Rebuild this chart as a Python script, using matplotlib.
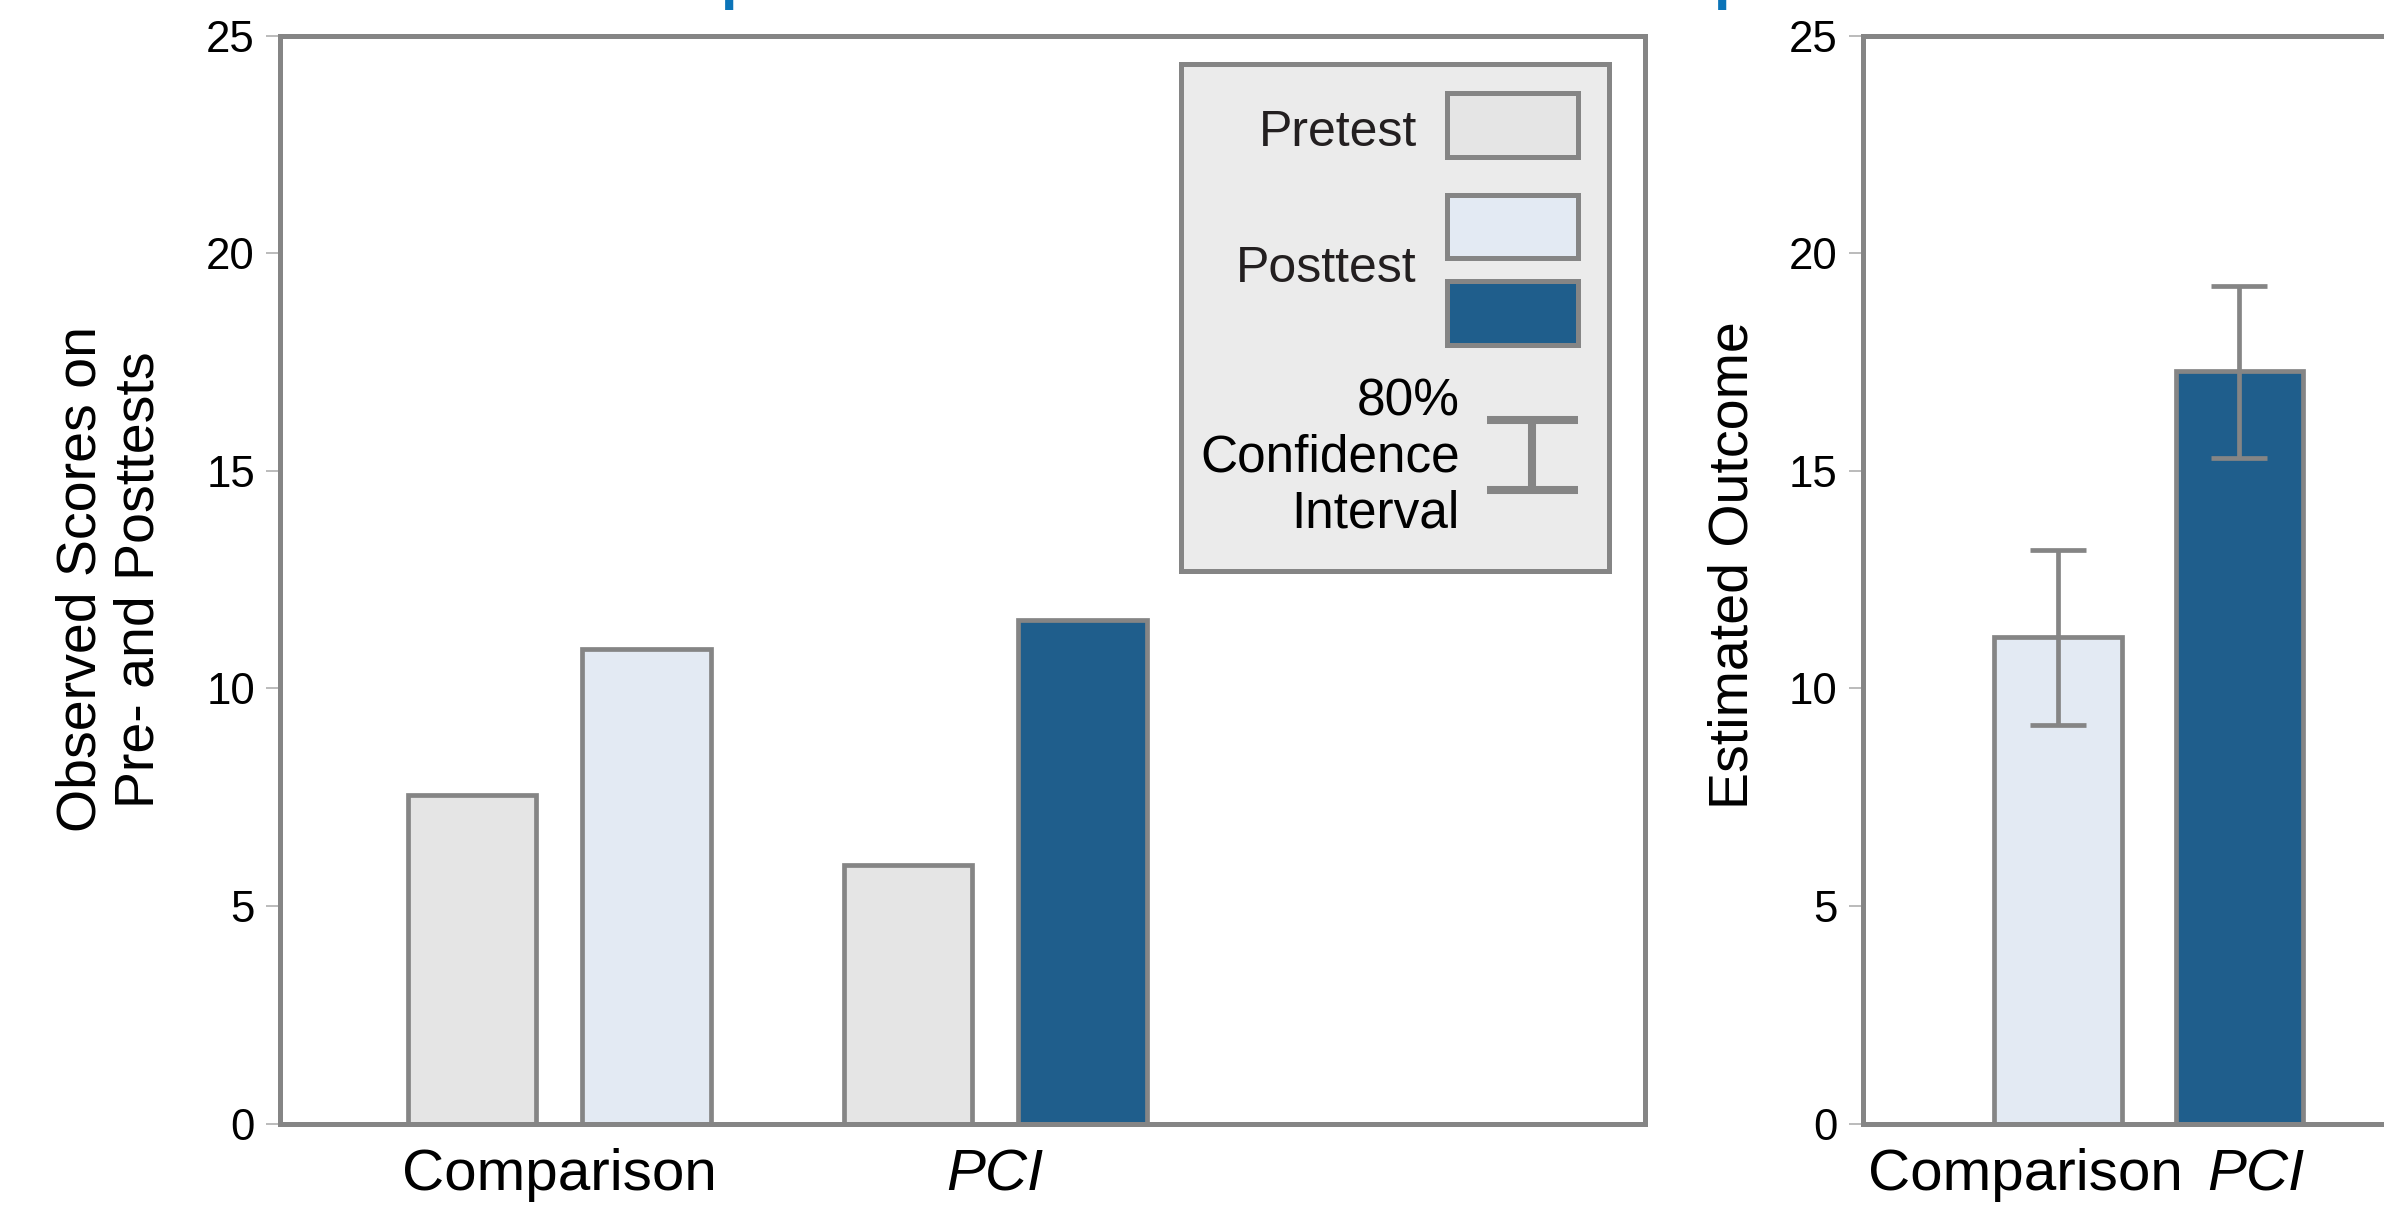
import matplotlib
matplotlib.use("Agg")
import matplotlib.pyplot as plt
import matplotlib.transforms as mtransforms
from matplotlib.patches import Rectangle
from matplotlib.lines import Line2D
import numpy as np

plt.rcParams['font.family'] = ['Liberation Sans', 'DejaVu Sans']

# ---- data -------------------------------------------------------------
groups = ["Comparison", "PCI"]
pretest = [7.54, 5.94]
posttest = [10.90, 11.56]
estimated = [11.17, 17.30]
ci_low = [9.15, 15.29]
ci_high = [13.17, 19.25]
yticks = [0, 5, 10, 15, 20, 25]

# ---- style ------------------------------------------------------------
GRAY = "#858585"
TICK_GRAY = "#a8a8a8"
PRE = "#e5e5e5"
POST_LIGHT = "#e3eaf3"
POST_DARK = "#1f5e8c"
LEGEND_BG = "#ebebeb"
TITLE_BLUE = "#0b74b8"

W, H = 2384, 1211
fig = plt.figure(figsize=(W / 100, H / 100), dpi=100)


def fx(px):
    return px / W


def fy(py):
    return 1 - py / H


def style_axes(ax):
    for s in ax.spines.values():
        s.set_color(GRAY)
        s.set_linewidth(3.6)
    ax.set_ylim(0, 25)
    ax.set_yticks(yticks)
    ax.tick_params(axis='y', length=10, width=1.1, color=TICK_GRAY, pad=8,
                   labelsize=31.5, labelcolor='black')
    ax.tick_params(axis='x', length=0, pad=18, labelsize=42, labelcolor='black')
    ax.set_xticks(np.arange(len(groups)))
    ax.set_xticklabels(groups)
    ax.get_xticklabels()[1].set_fontstyle('italic')


x = np.arange(len(groups))

# ---- left panel: observed pre/post scores -----------------------------
ax1 = fig.add_axes([fx(280), fy(1123.5), fx(1645) - fx(280), fy(35.5) - fy(1123.5)])
bw, off = 0.295, 0.2
ax1.bar(x - off, pretest, bw, color=PRE, edgecolor=GRAY, linewidth=3.4)
ax1.bar(x + off, posttest, bw, color=[POST_LIGHT, POST_DARK], edgecolor=GRAY, linewidth=3.4)
ax1.set_xlim(-0.64, 2.49)
style_axes(ax1)
ax1.set_ylabel("Observed Scores on\nPre- and Posttests", fontsize=40,
               linespacing=1.15, va='center', ha='center')
ax1.yaxis.set_label_coords((111 - 280) / 1365, 0.5)

# ---- right panel: estimated outcome with 80% CI -----------------------
ax2 = fig.add_axes([fx(1862.5), fy(1123.5), 1365 / W, fy(35.5) - fy(1123.5)])
est = np.array(estimated)
err = np.vstack([est - np.array(ci_low), np.array(ci_high) - est])
ax2.bar(x, est, 0.70, color=[POST_LIGHT, POST_DARK], edgecolor=GRAY, linewidth=3.4)
ax2.errorbar(x, est, yerr=err, fmt='none', ecolor=GRAY, elinewidth=3.4,
             capsize=20, capthick=3.4)
ax2.set_xlim(-1.077, -1.077 + 1365 / 181.5)
style_axes(ax2)
ax2.set_ylabel("Estimated Outcome", fontsize=40, va='center', ha='center')
ax2.yaxis.set_label_coords((1733 - 1862.5) / 1365, (1123.5 - 565) / 1088)
for lab, dx in zip(ax2.get_xticklabels(), [-33, 16]):
    lab.set_transform(lab.get_transform() +
                      mtransforms.ScaledTranslation(dx / 100, 0, fig.dpi_scale_trans))

# ---- legend -----------------------------------------------------------
def fig_rect(x0, y0, x1, y1, **kw):
    r = Rectangle((fx(x0), fy(y1)), fx(x1) - fx(x0), fy(y0) - fy(y1),
                  transform=fig.transFigure, **kw)
    fig.add_artist(r)
    return r


fig_rect(1181, 64, 1609, 571, facecolor=LEGEND_BG, edgecolor=GRAY, linewidth=3.6)
fig_rect(1447, 93, 1578, 157, facecolor=PRE, edgecolor=GRAY, linewidth=3.6)
fig_rect(1447, 195, 1578, 258, facecolor=POST_LIGHT, edgecolor=GRAY, linewidth=3.6)
fig_rect(1447, 281, 1578, 345, facecolor=POST_DARK, edgecolor=GRAY, linewidth=3.6)

fig.text(fx(1417), fy(146), "Pretest", fontsize=36, ha='right', va='baseline', color='#231f20')
fig.text(fx(1417), fy(282.5), "Posttest", fontsize=36, ha='right', va='baseline', color='#231f20')
fig.text(fx(1460), fy(458), "80%\nConfidence\nInterval", fontsize=37, ha='right',
         va='center', multialignment='right', linespacing=1.18, color='black')

for (xa, xb, ya, yb) in [(1487, 1578, 420, 420), (1487, 1578, 490, 490), (1532, 1532, 420, 490)]:
    fig.add_artist(Line2D([fx(xa), fx(xb)], [fy(ya), fy(yb)], transform=fig.transFigure,
                          color=GRAY, linewidth=5.8, solid_capstyle='butt'))

# ---- clipped blue heading above the panels ----------------------------
for px in (720, 1713):
    fig.text(fx(px), 1 + 1.6 / H, "p", fontsize=43, fontweight='bold',
             color=TITLE_BLUE, ha='left', va='baseline')

fig.savefig("out.png", dpi=100)
